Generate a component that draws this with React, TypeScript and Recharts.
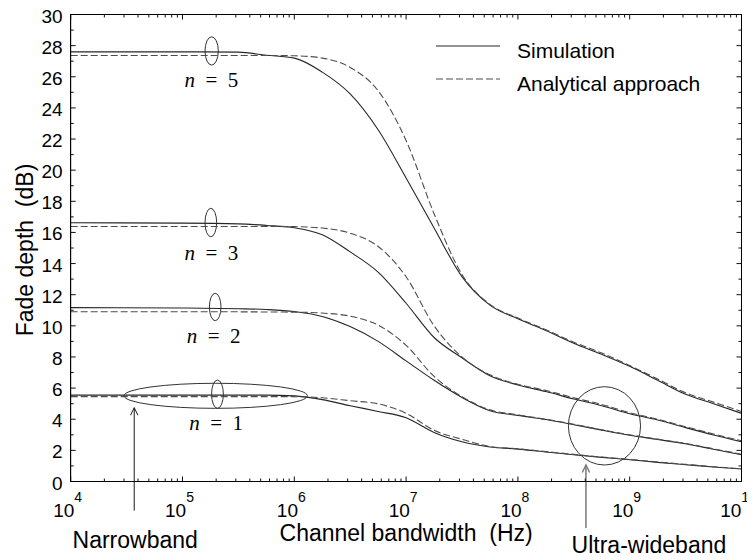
import React from 'react';
import {
  LineChart,
  Line,
  XAxis,
  YAxis,
  Legend,
  ReferenceArea,
  ReferenceLine,
  ReferenceDot,
} from 'recharts';

// channel bandwidth (Hz), log-spaced read-out points
const FREQ_HZ = [
  1e4, 1e5, 3.16e5, 5.62e5, 1e6, 1.78e6, 3.16e6, 5.62e6, 1e7, 1.78e7, 3.16e7,
  5.62e7, 1e8, 1.78e8, 3.16e8, 5.62e8, 1e9, 1.78e9, 3.16e9, 5.62e9, 1e10,
];

// fade depth (dB), simulation vs analytical approach
const SIM_N5 = [27.6, 27.6, 27.58, 27.38, 27.2, 26.3, 24.9, 22.6, 19.5, 16.28, 13.16, 11.33, 10.45, 9.7, 8.88, 8.17, 7.4, 6.5, 5.6, 5.0, 4.38];
const ANA_N5 = [27.37, 27.37, 27.37, 27.37, 27.35, 27.2, 26.6, 25.1, 21.9, 17.2, 13.3, 11.38, 10.5, 9.75, 8.95, 8.25, 7.45, 6.58, 5.7, 5.1, 4.5];
const SIM_N3 = [16.62, 16.6, 16.55, 16.45, 16.3, 15.85, 14.75, 13.45, 11.45, 9.25, 7.95, 6.8, 6.2, 5.78, 5.3, 4.87, 4.35, 3.95, 3.46, 2.99, 2.56];
const ANA_N3 = [16.38, 16.38, 16.38, 16.38, 16.37, 16.28, 15.95, 15.1, 13.15, 10.0, 8.0, 6.85, 6.25, 5.85, 5.38, 4.95, 4.42, 4.0, 3.52, 3.05, 2.62];
const SIM_N2 = [11.17, 11.15, 11.1, 11.05, 10.92, 10.6, 9.95, 9.0, 7.75, 6.5, 5.4, 4.55, 4.25, 3.98, 3.65, 3.3, 2.97, 2.7, 2.42, 2.07, 1.72];
const ANA_N2 = [10.9, 10.9, 10.9, 10.89, 10.88, 10.82, 10.62, 10.05, 8.75, 6.75, 5.45, 4.6, 4.28, 4.0, 3.68, 3.32, 3.0, 2.72, 2.44, 2.1, 1.75];
const SIM_N1 = [5.55, 5.55, 5.55, 5.55, 5.5, 5.26, 4.87, 4.5, 4.1, 3.15, 2.55, 2.22, 2.08, 1.9, 1.72, 1.55, 1.4, 1.23, 1.08, 0.93, 0.8];
const ANA_N1 = [5.45, 5.45, 5.45, 5.45, 5.45, 5.38, 5.19, 4.99, 4.38, 3.29, 2.71, 2.25, 2.1, 1.92, 1.74, 1.57, 1.42, 1.25, 1.1, 0.95, 0.82];

const X_DECADES = [1e4, 1e5, 1e6, 1e7, 1e8, 1e9, 1e10];
const X_MINOR = X_DECADES.slice(0, -1).flatMap((d) => [2, 3, 4, 5, 6, 7, 8, 9].map((m) => m * d));
const Y_MAJOR = [0, 2, 4, 6, 8, 10, 12, 14, 16, 18, 20, 22, 24, 26, 28, 30];
const Y_MINOR = [1, 3, 5, 7, 9, 11, 13, 15, 17, 19, 21, 23, 25, 27, 29];
const X_DOMAIN = [1e4, 1e10];
const Y_DOMAIN = [0, 30];

// annotation anchors in data units
const N_LABELS = [
  { n: 5, f: 1.81e5, y: 25.34 },
  { n: 3, f: 1.81e5, y: 14.23 },
  { n: 2, f: 1.9e5, y: 8.88 },
  { n: 1, f: 2.0e5, y: 3.31 },
];
const MARKERS = [
  { f1: 1.59e5, f2: 2.09e5, y1: 26.75, y2: 28.57 },
  { f1: 1.59e5, f2: 2.02e5, y1: 15.72, y2: 17.55 },
  { f1: 1.74e5, f2: 2.21e5, y1: 10.33, y2: 12.09 },
  { f1: 1.82e5, f2: 2.32e5, y1: 4.7, y2: 6.52 },
  { f1: 3.0e4, f2: 1.31e6, y1: 4.7, y2: 6.31 },
  { f1: 2.83e8, f2: 1.25e9, y1: 1.06, y2: 6.09 },
];

const rows = FREQ_HZ.map((f, i) => ({
  f,
  sim5: SIM_N5[i],
  ana5: ANA_N5[i],
  sim3: SIM_N3[i],
  ana3: ANA_N3[i],
  sim2: SIM_N2[i],
  ana2: ANA_N2[i],
  sim1: SIM_N1[i],
  ana1: ANA_N1[i],
}));

const SERIES = [
  { key: 'sim5', sim: true },
  { key: 'ana5', sim: false },
  { key: 'sim3', sim: true },
  { key: 'ana3', sim: false },
  { key: 'sim2', sim: true },
  { key: 'ana2', sim: false },
  { key: 'sim1', sim: true },
  { key: 'ana1', sim: false },
];

const FONT = '"Liberation Sans", Arial, Helvetica, sans-serif';
const SERIF = '"Liberation Serif", "Times New Roman", serif';
const SIM_COLOR = '#262626';
const ANA_COLOR = '#4d4d4d';
const DASH = '7 3';

// chart geometry
const CHART_W = 755;
const CHART_H = 560;
const MARGIN = { top: 14.5, right: 13.5, bottom: 38.5, left: 20.7 };
const X_AXIS_H = 40;
const Y_AXIS_W = 50;
const Y_TICK_GAP = 8;
const PLOT_LEFT = MARGIN.left + Y_AXIS_W;
const PLOT_W = CHART_W - MARGIN.left - MARGIN.right - Y_AXIS_W;
const PLOT_H = CHART_H - MARGIN.top - MARGIN.bottom - X_AXIS_H;

const isDecade = (v: number) => X_DECADES.includes(v);

// bottom axis tick: label for decades plus inward ticks on bottom and top edge
const FreqTick = (props: any) => {
  const x = Number(props.x);
  const y = Number(props.y);
  const v = props.payload.value;
  const major = isDecade(v);
  const len = major ? 5 : 3;
  const top = y - PLOT_H;
  return (
    <g>
      <path d={`M${x},${y}V${y - len}M${x},${top}V${top + len}`} stroke="#111" strokeWidth={1} fill="none" />
      {major && (
        <text x={x - 3} y={y + 35} textAnchor="middle" fontFamily={FONT} fontSize={19} fill="#000">
          10
          <tspan dy={-15} fontSize={14}>
            {Math.round(Math.log10(v))}
          </tspan>
        </text>
      )}
    </g>
  );
};

// left axis tick: label for even values plus inward ticks on left and right edge
const DepthTick = (props: any) => {
  const x = Number(props.x);
  const y = Number(props.y);
  const v = props.payload.value;
  const major = Y_MAJOR.includes(v);
  const len = major ? 5 : 3;
  const left = x + Y_TICK_GAP;
  const right = left + PLOT_W;
  return (
    <g>
      <path d={`M${left},${y}H${left + len}M${right},${y}H${right - len}`} stroke="#111" strokeWidth={1} fill="none" />
      {major && (
        <text x={x} y={y} dy={8} textAnchor="end" fontFamily={FONT} fontSize={19} fill="#000">
          {v}
        </text>
      )}
    </g>
  );
};

const XTitle = ({ viewBox }: any) => (
  <text
    x={viewBox.x + viewBox.width / 2}
    y={viewBox.y + 59.5}
    textAnchor="middle"
    fontFamily={FONT}
    fontSize={23}
    fill="#000"
    style={{ whiteSpace: 'pre' }}
  >
    Channel bandwidth  (Hz)
  </text>
);

const YTitle = ({ viewBox }: any) => {
  const cx = viewBox.x + 12.3;
  const cy = viewBox.y + viewBox.height / 2 + 2;
  return (
    <text
      x={cx}
      y={cy}
      transform={`rotate(-90 ${cx} ${cy})`}
      textAnchor="middle"
      fontFamily={FONT}
      fontSize={23}
      fill="#000"
      style={{ whiteSpace: 'pre' }}
    >
      Fade depth  (dB)
    </text>
  );
};

const EllipseShape = ({ x, y, width, height }: any) => (
  <ellipse
    cx={x + width / 2}
    cy={y + height / 2}
    rx={Math.abs(width) / 2}
    ry={Math.abs(height) / 2}
    fill="none"
    stroke="#333"
    strokeWidth={1}
  />
);

const arrowShape = (color: string, sw: number, caption: string, capDx: number, capDy: number) => (p: any) => {
  const { x1, y1, y2 } = p;
  const tip = Math.min(y1, y2);
  const base = Math.max(y1, y2);
  return (
    <g>
      <line x1={x1} y1={base} x2={x1} y2={tip} stroke={color} strokeWidth={sw} />
      <polyline
        points={`${x1 - 3.7},${tip + 7.5} ${x1},${tip} ${x1 + 3.7},${tip + 7.5}`}
        fill="none"
        stroke={color}
        strokeWidth={sw}
      />
      <text x={x1 + capDx} y={base + capDy} textAnchor="middle" fontFamily={FONT} fontSize={23} fill="#000">
        {caption}
      </text>
    </g>
  );
};

const nLabelShape = (n: number) => ({ cx, cy }: any) => (
  <text x={cx} y={cy} textAnchor="middle" fontFamily={SERIF} fontSize={21} fill="#000">
    <tspan fontStyle="italic">n</tspan>
    {'\u2002=\u2002'}
    {n}
  </text>
);

const LegendBox = ({ payload }: any) => {
  const seen: string[] = [];
  const items = (payload || [])
    .filter((e: any) => {
      if (seen.includes(e.value)) return false;
      seen.push(e.value);
      return true;
    })
    .sort((a: any, b: any) => (a.payload?.strokeDasharray ? 1 : 0) - (b.payload?.strokeDasharray ? 1 : 0));
  return (
    <svg width={300} height={72}>
      {items.map((e: any, i: number) => (
        <g key={e.value}>
          <line
            x1={0}
            x2={64}
            y1={17 + i * 33}
            y2={17 + i * 33}
            stroke={e.color}
            strokeWidth={1.1}
            strokeDasharray={e.payload?.strokeDasharray}
          />
          <text x={81} y={17 + i * 33 + 11.5} fontFamily={FONT} fontSize={21} fill="#000">
            {e.value}
          </text>
        </g>
      ))}
    </svg>
  );
};

const axisLine = { stroke: '#000', strokeWidth: 1 };
const ref = { xAxisId: 'x', yAxisId: 'y', ifOverflow: 'visible' as const };

export default function App() {
  return (
    <div
      style={{
        position: 'relative',
        width: CHART_W,
        height: CHART_H,
        background: '#fff',
        margin: '-8px 0 0 -8px',
      }}
    >
      <LineChart width={CHART_W} height={CHART_H} data={rows} margin={MARGIN}>
        <XAxis
          xAxisId="x"
          dataKey="f"
          type="number"
          scale="log"
          domain={X_DOMAIN}
          allowDataOverflow
          interval={0}
          ticks={[...X_DECADES, ...X_MINOR].sort((a, b) => a - b)}
          height={X_AXIS_H}
          tick={<FreqTick />}
          tickLine={false}
          tickSize={0}
          tickMargin={0}
          axisLine={axisLine}
          label={<XTitle />}
        />
        <YAxis
          yAxisId="y"
          type="number"
          domain={Y_DOMAIN}
          allowDataOverflow
          interval={0}
          orientation="left"
          width={Y_AXIS_W}
          ticks={[...Y_MAJOR, ...Y_MINOR].sort((a, b) => a - b)}
          tick={<DepthTick />}
          tickLine={false}
          tickSize={0}
          tickMargin={Y_TICK_GAP}
          axisLine={axisLine}
          label={<YTitle />}
        />

        <Legend
          layout="vertical"
          align="center"
          verticalAlign="middle"
          content={<LegendBox />}
          wrapperStyle={{ top: 29, left: 436, width: 300, height: 72 }}
        />

        {SERIES.map((s) => (
          <Line
            key={s.key}
            xAxisId="x"
            yAxisId="y"
            dataKey={s.key}
            name={s.sim ? 'Simulation' : 'Analytical approach'}
            type="monotone"
            stroke={s.sim ? SIM_COLOR : ANA_COLOR}
            strokeWidth={1.1}
            strokeDasharray={s.sim ? undefined : DASH}
            dot={false}
            activeDot={false}
            isAnimationActive={false}
          />
        ))}

        {MARKERS.map((m, i) => (
          <ReferenceArea
            key={i}
            xAxisId="x"
            yAxisId="y"
            x1={m.f1}
            x2={m.f2}
            y1={m.y1}
            y2={m.y2}
            shape={EllipseShape}
          />
        ))}

        {N_LABELS.map((l) => (
          <ReferenceDot key={l.n} xAxisId="x" yAxisId="y" x={l.f} y={l.y} r={0} shape={nLabelShape(l.n)} />
        ))}

        <ReferenceLine
          {...ref}
          segment={[{ x: 3.7e4, y: -1.87 }, { x: 3.7e4, y: 4.74 }]}
          shape={arrowShape('#1a1a1a', 1, 'Narrowband', 1, 37.3)}
        />
        <ReferenceLine
          {...ref}
          segment={[{ x: 4.06e8, y: -2.99 }, { x: 4.06e8, y: 1.06 }]}
          shape={arrowShape('#808080', 1.6, 'Ultra-wideband', 63, 25)}
        />
      </LineChart>
      {/* box frame around the plot area */}
      <div
        style={{
          position: 'absolute',
          left: PLOT_LEFT - 0.5,
          top: MARGIN.top - 0.5,
          width: PLOT_W + 1,
          height: PLOT_H + 1,
          boxSizing: 'border-box',
          border: '1px solid #000',
          pointerEvents: 'none',
        }}
      />
    </div>
  );
}
